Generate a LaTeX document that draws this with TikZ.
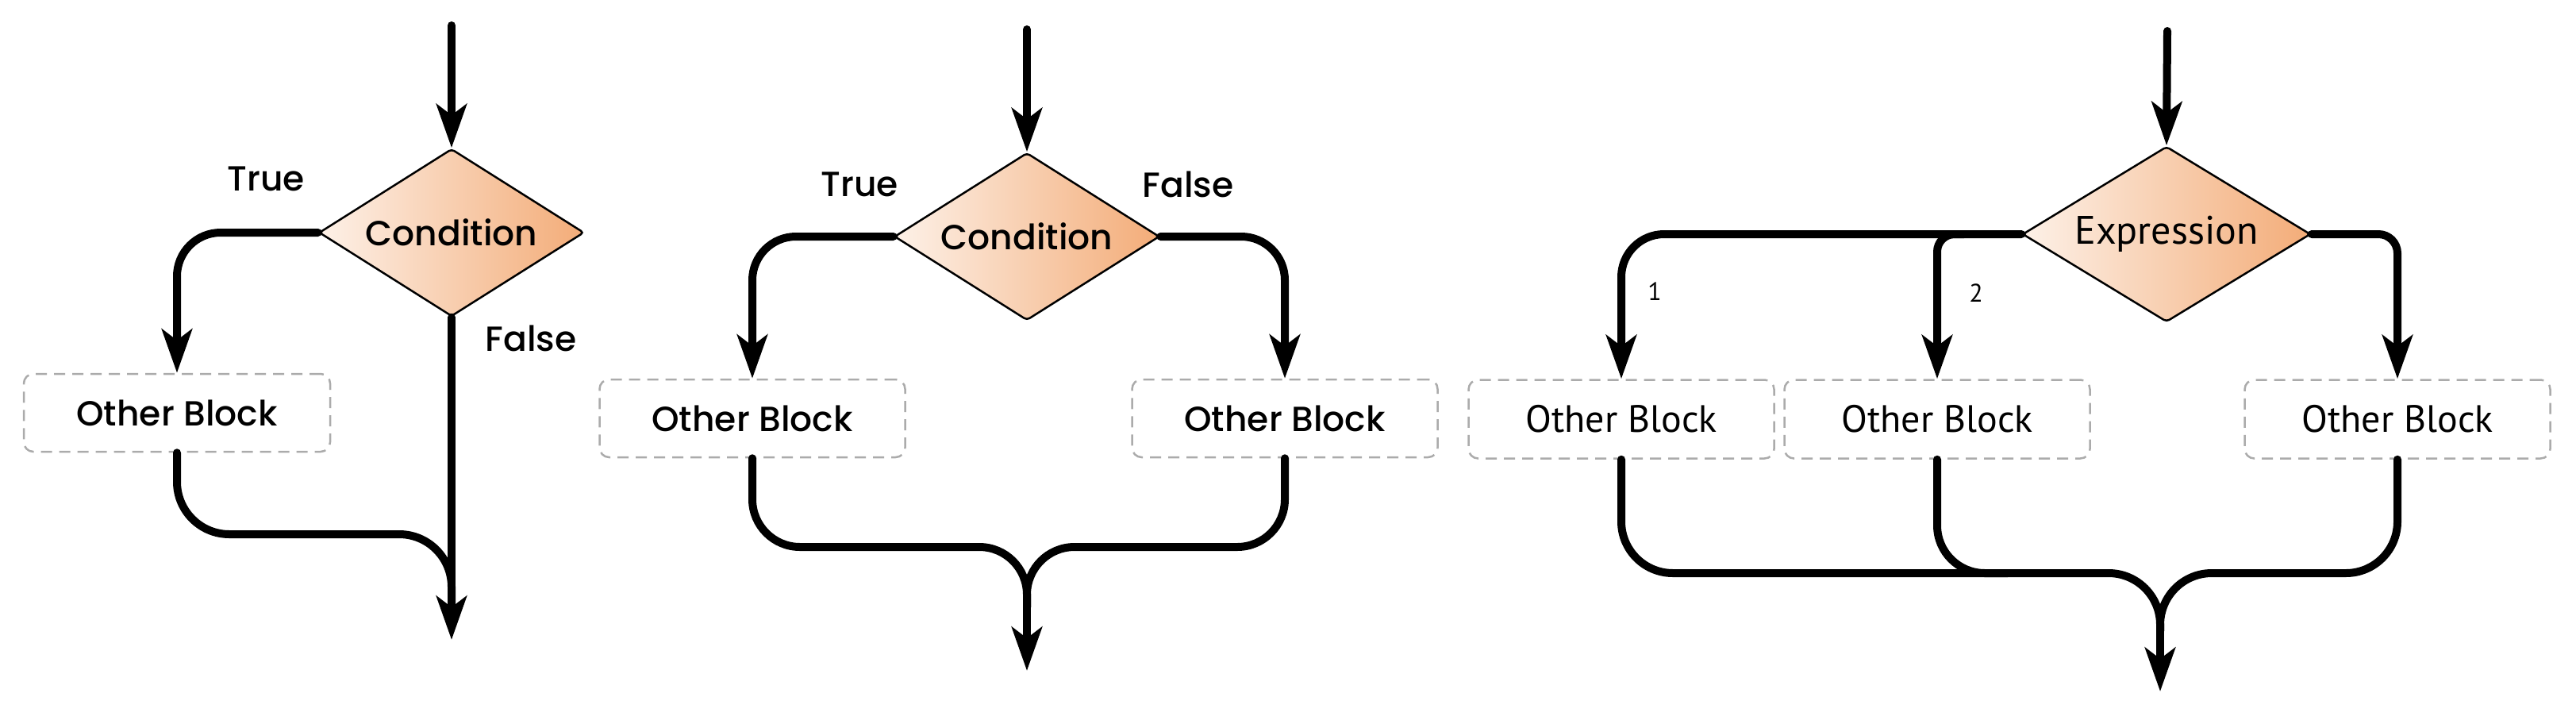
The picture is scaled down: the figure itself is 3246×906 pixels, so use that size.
\documentclass[tikz,border=0pt]{standalone}
\usepackage{fontspec}
\setmainfont{Poppins}[UprightFont=* Medium]
\newfontfamily\handB{PT Sans}
\usetikzlibrary{shapes.geometric,arrows.meta}
\definecolor{lightor}{HTML}{FDF1E8}
\definecolor{darkor}{HTML}{F3AC78}
\definecolor{dashgray}{HTML}{ABABAB}
\begin{document}
\begin{tikzpicture}[x=1pt,y=-1pt,
  flow/.style={line width=10pt, line cap=round, line join=round},
  arr/.style={flow, -{Stealth[length=55pt,width=38pt,inset=14pt]}},
  decision/.style={diamond, aspect=1.6, draw=black, line width=2.5pt, rounded corners=4pt,
    left color=lightor, right color=darkor, inner sep=0pt,
    minimum width=334pt, minimum height=211pt, font=\fontsize{44}{50}\selectfont},
  block/.style={rectangle, draw=dashgray, line width=2.5pt, dash pattern=on 14pt off 9pt,
    rounded corners=12pt, minimum width=386pt, minimum height=98pt,
    font=\fontsize{44}{50}\selectfont},
  lab/.style={font=\fontsize{44}{50}\selectfont},
  labB/.style={font=\handB\fontsize{32}{36}\selectfont}]
\useasboundingbox (0,0) rectangle (3246,906);

% ---------- Diagram 1 ----------
\node[decision] (d1) at (569,293) {Condition};
\node[block] (b1) at (223,520) {Other Block};
\node[lab] (t1) at (335,225) {True};
\node[lab] (f1) at (669,426) {False};
\coordinate (s1) at (569,32);
\coordinate (e1) at (569,806);
\coordinate (h1) at (569,673);
\coordinate (m1) at (569,770);
\draw[flow, rounded corners=66pt] (b1.south) |- (h1) -- (m1);
\draw[arr] (s1) -- (d1.north);
\draw[arr, rounded corners=55pt] (d1.west) -| (b1.north);
\draw[arr] (d1.south) -- (e1);

% ---------- Diagram 2 ----------
\node[decision] (d2) at (1294,298) {Condition};
\node[block, minimum width=385pt] (b2l) at (948,527) {Other Block};
\node[block, minimum width=385pt] (b2r) at (1619,527) {Other Block};
\node[lab] (t2) at (1083,232) {True};
\node[lab] (f2) at (1497,232) {False};
\coordinate (s2) at (1294,37);
\coordinate (h2) at (1294,689);
\coordinate (m2) at (1294,765);
\coordinate (e2) at (1294,845);
\draw[flow, rounded corners=60pt] (b2l.south) |- (h2) -- (m2);
\draw[flow, rounded corners=60pt] (b2r.south) |- (h2) -- (m2);
\draw[arr] (m2) -- (e2);
\draw[arr] (s2) -- (d2.north);
\draw[arr, rounded corners=55pt] (d2.west) -| (b2l.north);
\draw[arr, rounded corners=55pt] (d2.east) -| (b2r.north);

% ---------- Diagram 3 ----------
\node[decision, minimum width=363pt, minimum height=221pt,
  font=\handB\fontsize{50}{56}\selectfont] (d3) at (2730,295) {Expression};
\node[block, minimum width=385pt, minimum height=99pt,
  font=\handB\fontsize{48}{56}\selectfont] (b3a) at (2043,528) {Other Block};
\node[block, minimum width=385pt, minimum height=99pt,
  font=\handB\fontsize{48}{56}\selectfont] (b3b) at (2441,528) {Other Block};
\node[block, minimum width=385pt, minimum height=99pt,
  font=\handB\fontsize{48}{56}\selectfont] (b3c) at (3021,528) {Other Block};
\node[labB] (l1) at (2085,367) {1};
\node[labB] (l2) at (2490,369) {2};
\coordinate (s3) at (2731,39);
\coordinate (br) at (2475,295);
\coordinate (h3) at (2722,722);
\coordinate (h3b) at (2530,722);
\coordinate (m3) at (2722,795);
\coordinate (e3) at (2722,871);
\draw[flow, rounded corners=65pt] (b3a.south) |- (h3) -- (m3);
\draw[flow, rounded corners=65pt] (b3c.south) |- (h3) -- (m3);
\draw[flow, rounded corners=60pt] (b3b.south) |- (h3b);
\draw[arr] (m3) -- (e3);
\draw[arr] (s3) -- (d3.north);
\draw[arr, rounded corners=54pt] (d3.west) -| (b3a.north);
\draw[arr, rounded corners=22pt] (br) -| (b3b.north);
\draw[arr, rounded corners=24pt] (d3.east) -| (b3c.north);
\end{tikzpicture}
\end{document}
